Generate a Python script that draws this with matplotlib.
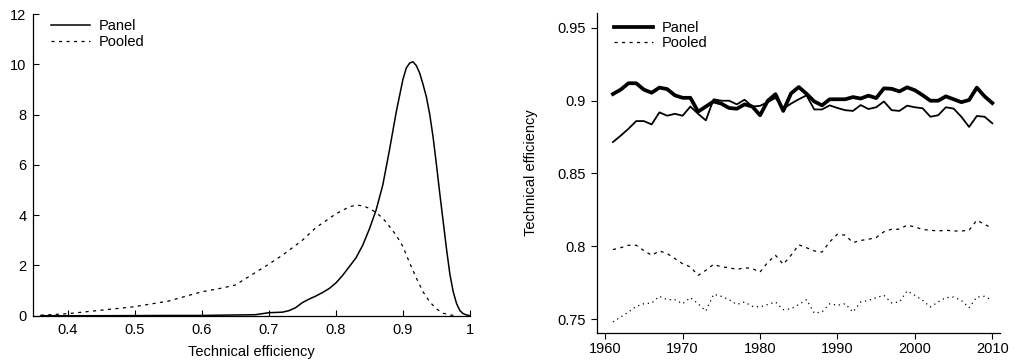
import matplotlib

matplotlib.use("Agg")

import numpy as np
from matplotlib import pyplot as plt

plt.rcParams["font.family"] = ["Liberation Sans", "DejaVu Sans"]
plt.rcParams["font.size"] = 10.5

# Kernel density of technical efficiency (left panel)
panel_te = [0.36, 0.45, 0.55, 0.60, 0.65, 0.68, 0.70, 0.72, 0.73, 0.74, 0.75, 0.76,
            0.77, 0.78, 0.79, 0.80, 0.81, 0.82, 0.83, 0.84, 0.85, 0.86, 0.87, 0.88,
            0.89, 0.90, 0.905, 0.91, 0.915, 0.92, 0.925, 0.93, 0.935, 0.94, 0.945,
            0.95, 0.955, 0.96, 0.965, 0.97, 0.975, 0.98, 0.985, 0.99, 0.995, 1.0]
panel_density = [0.0, 0.0, 0.01, 0.01, 0.03, 0.04, 0.12, 0.14, 0.20, 0.32, 0.52, 0.66,
                 0.78, 0.92, 1.08, 1.30, 1.60, 1.95, 2.30, 2.80, 3.45, 4.20, 5.20, 6.60,
                 8.10, 9.40, 9.85, 10.05, 10.10, 9.95, 9.65, 9.20, 8.70, 8.00, 7.10,
                 6.00, 4.85, 3.75, 2.65, 1.65, 0.95, 0.48, 0.20, 0.08, 0.03, 0.0]

pooled_te = [0.36, 0.40, 0.45, 0.50, 0.55, 0.60, 0.63, 0.65, 0.67, 0.70, 0.72, 0.75,
             0.77, 0.80, 0.82, 0.83, 0.84, 0.85, 0.86, 0.87, 0.88, 0.89, 0.90, 0.91,
             0.92, 0.93, 0.94, 0.95, 0.96, 0.97, 0.98]
pooled_density = [0.02, 0.08, 0.22, 0.36, 0.58, 0.95, 1.10, 1.22, 1.55, 2.05, 2.40, 3.00,
                  3.50, 4.05, 4.33, 4.40, 4.37, 4.27, 4.10, 3.88, 3.55, 3.20, 2.75, 2.10,
                  1.50, 0.95, 0.55, 0.27, 0.10, 0.03, 0.0]

# Mean technical efficiency by year (right panel)
years = list(range(1961, 2011))
panel_mean = [0.9046, 0.9076, 0.9120, 0.9120, 0.9076, 0.9055, 0.9090, 0.9080, 0.9037, 0.9020,
              0.9020, 0.8925, 0.8960, 0.8995, 0.8980, 0.8950, 0.8945, 0.8975, 0.8960, 0.8900,
              0.9000, 0.9045, 0.8930, 0.9050, 0.9094, 0.9048, 0.8995, 0.8968, 0.9010, 0.9010,
              0.9010, 0.9025, 0.9015, 0.9035, 0.9018, 0.9085, 0.9082, 0.9064, 0.9092, 0.9072,
              0.9038, 0.9000, 0.9000, 0.9030, 0.9010, 0.8990, 0.9005, 0.9090, 0.9030, 0.8984]
panel_alt = [0.8716, 0.8760, 0.8807, 0.8860, 0.8860, 0.8837, 0.8920, 0.8897, 0.8910, 0.8897,
             0.8960, 0.8910, 0.8865, 0.9010, 0.9000, 0.9000, 0.8975, 0.9007, 0.8960, 0.8965,
             0.8990, 0.9020, 0.8945, 0.8980, 0.9010, 0.9037, 0.8940, 0.8940, 0.8968, 0.8950,
             0.8935, 0.8930, 0.8970, 0.8943, 0.8955, 0.8995, 0.8935, 0.8930, 0.8966, 0.8955,
             0.8948, 0.8890, 0.8900, 0.8955, 0.8946, 0.8890, 0.8820, 0.8895, 0.8890, 0.8845]
pooled_mean = [0.7977, 0.7990, 0.8007, 0.8007, 0.7970, 0.7938, 0.7968, 0.7950, 0.7915, 0.7880,
               0.7858, 0.7800, 0.7835, 0.7876, 0.7858, 0.7853, 0.7840, 0.7853, 0.7846, 0.7823,
               0.7890, 0.7938, 0.7876, 0.7938, 0.8010, 0.7990, 0.7968, 0.7960, 0.8030, 0.8083,
               0.8076, 0.8025, 0.8040, 0.8048, 0.8060, 0.8100, 0.8117, 0.8117, 0.8145, 0.8133,
               0.8115, 0.8110, 0.8105, 0.8110, 0.8105, 0.8105, 0.8110, 0.8179, 0.8151, 0.8122]
pooled_alt = [0.7480, 0.7514, 0.7548, 0.7587, 0.7605, 0.7610, 0.7656, 0.7633, 0.7633, 0.7605,
              0.7647, 0.7605, 0.7555, 0.7670, 0.7656, 0.7633, 0.7600, 0.7617, 0.7587, 0.7583,
              0.7600, 0.7617, 0.7564, 0.7570, 0.7600, 0.7633, 0.7541, 0.7548, 0.7605, 0.7594,
              0.7605, 0.7548, 0.7617, 0.7628, 0.7647, 0.7663, 0.7610, 0.7617, 0.7693, 0.7663,
              0.7628, 0.7583, 0.7617, 0.7647, 0.7651, 0.7628, 0.7578, 0.7651, 0.7656, 0.7628]

dashed = (0, (2.5, 3.5))
dotted = (0, (1.0, 3.0))

fig = plt.figure(figsize=(10.16, 3.6), dpi=100)
ax_kd = fig.add_axes([0.0328, 0.123, 0.4298, 0.838])
ax_ts = fig.add_axes([0.5873, 0.075, 0.397, 0.889])

legend_kw = dict(loc="upper left", frameon=False, borderpad=0, borderaxespad=0,
                 handlelength=2.67, handletextpad=0.62, labelspacing=0.08)

# Density plot
ax_kd.plot(panel_te, panel_density, color="black", linewidth=1.1, label="Panel")
ax_kd.plot(pooled_te, pooled_density, color="black", linewidth=0.9, linestyle=dashed, label="Pooled")
ax_kd.set_xlim(0.349, 1.0)
ax_kd.set_ylim(0, 12)
ax_kd.set_xticks([0.4, 0.5, 0.6, 0.7, 0.8, 0.9, 1.0])
ax_kd.set_xticklabels(["0.4", "0.5", "0.6", "0.7", "0.8", "0.9", "1"])
ax_kd.set_yticks([0, 2, 4, 6, 8, 10, 12])
ax_kd.tick_params(direction="in", length=4, width=0.8, pad=5)
ax_kd.set_xlabel("Technical efficiency", labelpad=6)
ax_kd.legend(bbox_to_anchor=(0.0405, 0.982), **legend_kw)

# Yearly means
ax_ts.plot(years, panel_mean, color="black", linewidth=2.7, label="Panel")
ax_ts.plot(years, panel_alt, color="black", linewidth=1.3)
ax_ts.plot(years, pooled_mean, color="black", linewidth=0.9, linestyle=dashed, label="Pooled")
ax_ts.plot(years, pooled_alt, color="black", linewidth=0.9, linestyle=dotted)
ax_ts.set_xlim(1958.9, 2011.0)
ax_ts.set_ylim(0.7404, 0.9603)
ax_ts.set_xticks([1960, 1970, 1980, 1990, 2000, 2010])
ax_ts.set_yticks([0.75, 0.8, 0.85, 0.9, 0.95])
ax_ts.set_yticklabels(["0.75", "0.8", "0.85", "0.9", "0.95"])
ax_ts.tick_params(direction="out", length=4, width=0.8, pad=4)
ax_ts.tick_params(axis="x", pad=2.5)
ax_ts.set_ylabel("Technical efficiency", labelpad=14)
ax_ts.legend(bbox_to_anchor=(0.043, 0.975), **legend_kw)

for ax in (ax_kd, ax_ts):
    ax.spines["top"].set_visible(False)
    ax.spines["right"].set_visible(False)
    ax.spines["left"].set_linewidth(0.9)
    ax.spines["bottom"].set_linewidth(0.9)

fig.savefig("out.png", dpi=100)
